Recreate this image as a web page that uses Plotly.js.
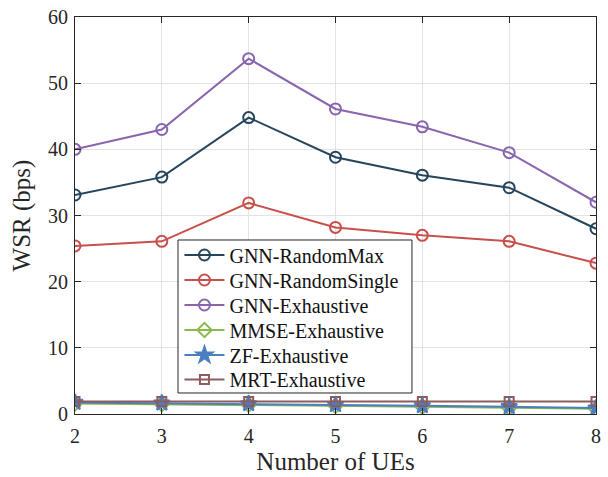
<!DOCTYPE html>
<html>
<head>
<meta charset="utf-8">
<script src="https://cdn.plot.ly/plotly-3.0.1.min.js"></script>
<style>
  html, body { margin: 0; padding: 0; background: #fff; }
  #chart { width: 608px; height: 477px; }
  /* serif face for every SVG text, including Plotly's measuring node */
  svg text { font-family: 'Liberation Serif', 'Times New Roman', serif !important; }
</style>
</head>
<body>
<div id="chart"></div>
<script>
// Number of UEs on the x axis
const numUEs = [2, 3, 4, 5, 6, 7, 8];

// Weighted sum rate (bps) for each scheme
const gnnRandomMax    = [33.1, 35.8, 44.8, 38.8, 36.1, 34.2, 28.0];
const gnnRandomSingle = [25.4, 26.1, 31.9, 28.2, 27.0, 26.1, 22.8];
const gnnExhaustive   = [40.0, 43.0, 53.7, 46.1, 43.4, 39.5, 32.0];
const mmseExhaustive  = [1.6, 1.5, 1.4, 1.25, 1.1, 0.95, 0.8];
const zfExhaustive    = [1.75, 1.65, 1.55, 1.4, 1.25, 1.1, 0.9];
const mrtExhaustive   = [1.9, 1.9, 1.9, 1.9, 1.9, 1.9, 1.9];

const yTicks = [0, 10, 20, 30, 40, 50, 60];

const SERIF = 'Liberation Serif';

// one single-entry legend per trace so the rows can sit tightly inside one frame
function series(name, y, color, symbol, size, legendId) {
  return {
    x: numUEs, y: y, name: name, type: 'scatter', mode: 'lines+markers',
    legend: legendId,
    line: { color: color, width: 2 },
    marker: { symbol: symbol, size: size, color: color,
              line: { color: color, width: 2 } }
  };
}

const data = [
  series('GNN-RandomMax', gnnRandomMax, '#26455c', 'circle-open', 11, 'legend'),
  series('GNN-RandomSingle', gnnRandomSingle, '#c8504a', 'circle-open', 11, 'legend2'),
  series('GNN-Exhaustive', gnnExhaustive, '#8865ad', 'circle-open', 11, 'legend3'),
  series('MMSE-Exhaustive', mmseExhaustive, '#8db84f', 'diamond-open', 11, 'legend4'),
  series('ZF-Exhaustive', zfExhaustive, '#4a7fc2', 'star', 12, 'legend5'),
  series('MRT-Exhaustive', mrtExhaustive, '#8e5c5c', 'square-open', 9, 'legend6')
];

const legendRowsY = [0.4005, 0.3375, 0.2746, 0.2116, 0.1486, 0.0870];

function legendRow(yPos) {
  return {
    x: 0.2005, y: yPos, xanchor: 'left', yanchor: 'middle',
    bgcolor: 'rgba(0,0,0,0)', borderwidth: 0,
    font: { family: SERIF, size: 20, color: '#111111' },
    itemwidth: 40
  };
}

const axisCommon = {
  showline: true, linecolor: '#262626', linewidth: 1, mirror: 'ticks',
  ticks: 'inside', ticklen: 6, tickcolor: '#262626',
  showgrid: true, gridcolor: '#e3e3e3', gridwidth: 1, zeroline: false,
  tickfont: { family: SERIF, size: 20, color: '#262626' }
};

const layout = {
  width: 608, height: 477,
  margin: { l: 75, r: 12, t: 17, b: 63 },
  paper_bgcolor: '#ffffff', plot_bgcolor: '#ffffff',
  font: { family: SERIF, size: 20, color: '#262626' },
  xaxis: Object.assign({}, axisCommon, {
    range: [2, 8], tickvals: numUEs, ticktext: numUEs.map(String),
    ticklabelstandoff: 4,
    title: { text: 'Number of UEs', font: { family: SERIF, size: 25, color: '#262626' }, standoff: 6 }
  }),
  yaxis: Object.assign({}, axisCommon, {
    range: [0, 60], tickvals: yTicks, ticktext: yTicks.map(String),
    ticklabelstandoff: 2,
    title: { text: 'WSR (bps)', font: { family: SERIF, size: 25, color: '#262626' }, standoff: 10 }
  }),
  showlegend: true,
  legend: legendRow(legendRowsY[0]),
  legend2: legendRow(legendRowsY[1]),
  legend3: legendRow(legendRowsY[2]),
  legend4: legendRow(legendRowsY[3]),
  legend5: legendRow(legendRowsY[4]),
  legend6: legendRow(legendRowsY[5]),
  // legend frame
  shapes: [{
    type: 'rect', xref: 'paper', yref: 'paper', layer: 'above',
    x0: 0.1977, x1: 0.6468, y0: 0.0529, y1: 0.4383,
    fillcolor: '#ffffff', line: { color: '#262626', width: 1 }
  }]
};

Plotly.newPlot('chart', data, layout, { displayModeBar: false, staticPlot: true });
</script>
</body>
</html>
